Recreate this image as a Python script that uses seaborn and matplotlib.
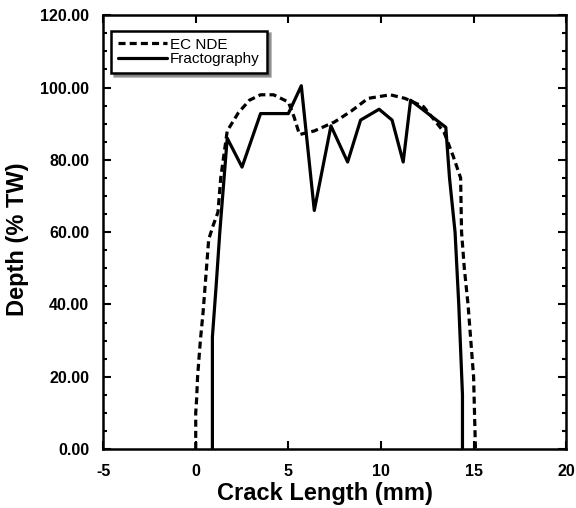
import pandas as pd
import seaborn as sns
import matplotlib.pyplot as plt
from matplotlib.ticker import MultipleLocator, FormatStrFormatter

# EC NDE (dashed) trace
ec_x = [0.0, 0.0, 0.05, 0.1, 0.25, 0.4, 0.55, 0.7, 0.95, 1.2, 1.35, 1.7, 2.3, 2.9, 3.5, 4.2,
        5.0, 5.3, 5.6, 6.4, 7.5, 8.4, 9.3, 10.5, 11.3, 12.3, 13.4, 13.9, 14.3, 14.35, 14.5, 14.7, 15.0, 15.1]
ec_y = [0.0, 10.0, 14.0, 20.0, 30.0, 38.0, 48.0, 58.0, 62.0, 65.5, 75.0, 88.0, 93.0, 96.5, 98.0, 98.0,
        96.0, 92.0, 87.0, 88.0, 90.5, 93.5, 97.0, 98.0, 97.0, 94.7, 87.7, 81.0, 75.0, 60.0, 50.0, 40.0, 20.0, 0.0]

# Fractography (solid) trace
fr_x = [0.9, 0.9, 1.1, 1.3, 1.7, 2.5, 3.5, 5.0, 5.7, 6.4, 7.3, 8.2, 8.9, 9.9, 10.6, 11.2, 11.6,
        13.5, 13.7, 14.0, 14.2, 14.4, 14.4]
fr_y = [0.0, 31.0, 45.0, 60.0, 86.0, 78.0, 92.8, 92.8, 100.5, 66.0, 89.4, 79.4, 91.0, 94.0, 91.0, 79.4, 96.5,
        89.0, 75.0, 60.0, 40.0, 15.0, 0.0]

series_names = ['EC NDE', 'Fractography']
x_ticks = [-5, 0, 5, 10, 15, 20]

ec_df = pd.DataFrame({'Crack Length': ec_x, 'Depth': ec_y})
fr_df = pd.DataFrame({'Crack Length': fr_x, 'Depth': fr_y})

sns.set_style("ticks")
plt.rcParams['font.family'] = ['Liberation Sans', 'DejaVu Sans']
plt.rcParams['axes.unicode_minus'] = False
plt.rcParams['text.color'] = 'black'
plt.rcParams['axes.labelcolor'] = 'black'
plt.rcParams['xtick.color'] = 'black'
plt.rcParams['ytick.color'] = 'black'
plt.rcParams['axes.edgecolor'] = 'black'

fig = plt.figure(figsize=(5.76, 5.08), dpi=100)
ax = fig.add_axes([0.179, 0.116, 0.804, 0.854])

sns.lineplot(data=ec_df, x='Crack Length', y='Depth', sort=False, estimator=None, ax=ax,
             color='black', linewidth=2.3, linestyle=(0, (2.2, 1.3)), label=series_names[0])
sns.lineplot(data=fr_df, x='Crack Length', y='Depth', sort=False, estimator=None, ax=ax,
             color='black', linewidth=2.3, label=series_names[1])

ax.set_xlim(-5, 20)
ax.set_ylim(0, 120)
ax.set_xticks(x_ticks)
ax.yaxis.set_major_locator(MultipleLocator(20))
ax.yaxis.set_minor_locator(MultipleLocator(5))
ax.yaxis.set_major_formatter(FormatStrFormatter('%.2f'))

ax.tick_params(axis='both', which='both', direction='in', top=True, right=True,
               labelsize=11.5, width=1.5)
ax.tick_params(axis='both', which='major', length=6)
ax.tick_params(axis='y', which='major', pad=10)
ax.tick_params(axis='x', which='major', pad=11)
ax.tick_params(axis='y', which='minor', length=3)
for lbl in ax.get_xticklabels() + ax.get_yticklabels():
    lbl.set_fontweight('bold')
for sp in ax.spines.values():
    sp.set_linewidth(1.8)

ax.set_xlabel('Crack Length (mm)', fontsize=17, fontweight='bold')
ax.set_ylabel('Depth (% TW)', fontsize=17, fontweight='bold')
ax.xaxis.set_label_coords(0.48, -0.075)
ax.yaxis.set_label_coords(-0.16, 0.484)

leg = ax.legend(loc='upper left', bbox_to_anchor=(0.008, 0.975), frameon=True, fancybox=False,
                shadow=True, fontsize=11, handlelength=3.2, handletextpad=0.2,
                borderpad=0.45, labelspacing=0.05, borderaxespad=0.3)
leg.get_frame().set_edgecolor('black')
leg.get_frame().set_linewidth(1.8)
leg.get_frame().set_alpha(1)

fig.savefig('out.png', dpi=100)
